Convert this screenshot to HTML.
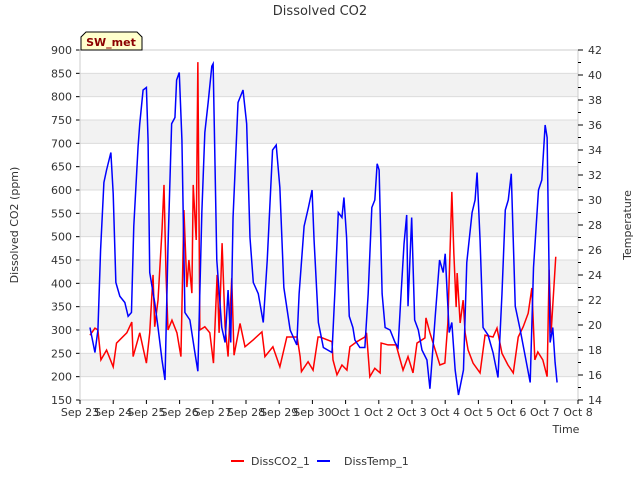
<!DOCTYPE html>
<html><head><meta charset="utf-8"><style>
body{margin:0;background:#fff}
svg{font-family:"DejaVu Sans","Liberation Sans",sans-serif}
</style></head><body>
<svg id="c" width="640" height="480"></svg>
<script>
const xTickLabels=["Sep 23","Sep 24","Sep 25","Sep 26","Sep 27","Sep 28","Sep 29","Sep 30","Oct 1","Oct 2","Oct 3","Oct 4","Oct 5","Oct 6","Oct 7","Oct 8"];
const leftTicks=[150,200,250,300,350,400,450,500,550,600,650,700,750,800,850,900];
const rightTicks=[14,16,18,20,22,24,26,28,30,32,34,36,38,40,42];
const tempDays=[0.3,0.45,0.54,0.62,0.72,0.8,0.93,1.0,1.08,1.2,1.35,1.45,1.55,1.62,1.75,1.8,1.9,2.0,2.05,2.1,2.25,2.35,2.47,2.56,2.65,2.76,2.86,2.91,2.99,3.07,3.16,3.31,3.46,3.55,3.67,3.76,3.86,3.97,4.01,4.12,4.27,4.37,4.46,4.54,4.61,4.76,4.91,5.02,5.12,5.22,5.37,5.52,5.64,5.8,5.91,6.02,6.14,6.33,6.53,6.6,6.75,6.88,6.99,7.05,7.18,7.33,7.59,7.68,7.78,7.89,7.95,8.03,8.11,8.22,8.28,8.43,8.58,8.68,8.79,8.88,8.95,9.01,9.1,9.19,9.34,9.49,9.58,9.66,9.76,9.84,9.88,9.99,10.08,10.19,10.3,10.45,10.54,10.7,10.83,10.94,11.0,11.12,11.2,11.3,11.4,11.55,11.65,11.81,11.9,11.96,12.05,12.14,12.29,12.44,12.59,12.71,12.81,12.9,12.99,13.11,13.26,13.41,13.56,13.66,13.81,13.91,14.01,14.07,14.16,14.24,14.31,14.37];
const tempValues=[19.8,17.8,19.6,26,31.4,32.4,33.8,30.5,23.4,22.3,21.8,20.7,21,27.9,34.3,36.1,38.8,39,34.8,24.2,21.8,19.8,17.2,15.6,26.2,36.1,36.6,39.6,40.2,34.8,21,20.4,17.8,16.3,29,35.4,37.8,40.7,40.9,25.2,19.8,18.6,22.8,18.6,28.6,37.8,38.8,36.1,27,23.4,22.5,20.2,25.2,34,34.4,31,23,19.6,18.4,22.5,27.9,29.4,30.8,26.8,20.2,18.2,17.8,22.8,29,28.6,30.2,27,20.7,19.8,18.8,18.2,18.2,22.5,29.4,30,32.9,32.4,22.5,19.8,19.6,18.6,18.2,22,26.5,28.8,21.5,28.6,20.4,19.6,18,17.2,14.9,20.7,25.2,24.2,25.7,19.4,20.2,16.4,14.4,16.4,25,29,30,32.2,26.8,19.8,19.2,17.8,15.8,22.5,29.2,30,32.1,21.5,19.6,17.5,15.4,24.6,30.8,31.6,36,35,18.6,19.8,17,15.4];
const co2Days=[0.3,0.45,0.54,0.63,0.8,1.0,1.1,1.41,1.56,1.6,1.8,2.0,2.1,2.2,2.25,2.35,2.47,2.53,2.59,2.65,2.77,2.92,3.04,3.13,3.22,3.28,3.37,3.41,3.5,3.55,3.61,3.76,3.91,4.02,4.13,4.19,4.28,4.37,4.46,4.57,4.64,4.82,4.97,5.22,5.48,5.57,5.81,6.02,6.23,6.54,6.63,6.67,6.87,7.02,7.17,7.23,7.59,7.62,7.74,7.89,8.04,8.13,8.34,8.58,8.63,8.73,8.88,9.04,9.07,9.28,9.52,9.73,9.88,10.03,10.15,10.39,10.42,10.54,10.84,10.99,11.08,11.2,11.26,11.33,11.36,11.45,11.54,11.6,11.69,11.84,12.05,12.2,12.44,12.56,12.71,12.89,13.05,13.2,13.35,13.5,13.61,13.7,13.79,13.94,14.07,14.13,14.19,14.33];
const co2Values=[289,304,300,236,257,221,272,294,317,243,294,229,294,418,307,364,514,611,422,300,321,294,243,557,392,450,379,611,493,874,300,307,294,229,418,294,486,307,243,411,246,314,264,279,296,243,264,221,285,285,243,211,232,214,285,285,275,236,204,225,214,264,275,285,294,200,218,208,272,268,268,214,243,208,272,283,326,294,225,229,315,596,465,349,422,315,364,294,257,229,208,289,285,304,250,225,208,285,307,336,390,236,253,236,200,429,294,457];

const svg=document.getElementById('c');const NS='http://www.w3.org/2000/svg';
function mk(t,a,p){const e=document.createElementNS(NS,t);for(const k in a)e.setAttribute(k,a[k]);(p||svg).appendChild(e);return e;}
const X0=80,X1=578,Y0=400,Y1=50;
const xs=d=>X0+(X1-X0)*d/15;
const yl=v=>Y0-(v-150)/750*(Y0-Y1);
const yr=v=>Y0-(v-14)/28*(Y0-Y1);
// bands
for(let v=200;v<900;v+=100){const b=mk('rect',{x:X0,y:yl(v+50),width:X1-X0,height:yl(v)-yl(v+50),fill:'#f2f2f2'});
}
leftTicks.forEach(v=>{const l=mk('line',{x1:X0,x2:X1,y1:yl(v),y2:yl(v),stroke:'#dcdcdc','stroke-width':1});

mk('line',{x1:X0-4,x2:X0,y1:yl(v),y2:yl(v),stroke:'#000'});
const t=mk('text',{x:X0-8,y:yl(v)+4,'text-anchor':'end','font-size':11,fill:'#333'});t.textContent=v;
});
mk('rect',{x:X0,y:Y1,width:X1-X0,height:Y0-Y1,fill:'none',stroke:'#ccc'});
for(let v=14;v<=42;v++){mk('line',{x1:X1,x2:X1+(v%2?3:5),y1:yr(v),y2:yr(v),stroke:'#000'});}
rightTicks.forEach(v=>{const t=mk('text',{x:X1+10,y:yr(v)+4,'font-size':11,fill:'#333'});t.textContent=v;
});
xTickLabels.forEach((s,i)=>{mk('line',{x1:xs(i),x2:xs(i),y1:Y0,y2:Y0+4,stroke:'#000'});
const t=mk('text',{x:xs(i),y:Y0+16,'text-anchor':'middle','font-size':11,fill:'#333'});t.textContent=s;
});
const pr=mk('polyline',{points:co2Days.map((d,i)=>xs(d)+','+yl(co2Values[i])).join(' '),fill:'none',stroke:'#ff0000','stroke-width':1.5});

const pb=mk('polyline',{points:tempDays.map((d,i)=>xs(d)+','+yr(tempValues[i])).join(' '),fill:'none',stroke:'#0000ff','stroke-width':1.5});

</script>
<svg width="640" height="480" style="position:absolute;left:0;top:0">
<text x="320" y="15" text-anchor="middle" font-size="13" fill="#333">Dissolved CO2</text>
<text transform="translate(18,225) rotate(-90)" text-anchor="middle" font-size="11" fill="#333">Dissolved CO2 (ppm)</text>
<text transform="translate(631,225) rotate(-90)" text-anchor="middle" font-size="11" fill="#333">Temperature</text>
<text x="566" y="433" text-anchor="middle" font-size="11" fill="#333">Time</text>
<g><path d="M81,50 L81,37 L86,32 L137,32 L142,37 L142,50 Z" fill="#ffffcc" stroke="#000"/>
<text x="111" y="46" text-anchor="middle" font-size="11" font-weight="bold" fill="#8b0000">SW_met</text></g>
<g>
<line x1="231" x2="244" y1="461" y2="461" stroke="#ff0000" stroke-width="2"/>
<text x="251" y="465" font-size="11" fill="#333">DissCO2_1</text>
<line x1="317" x2="330" y1="461" y2="461" stroke="#0000ff" stroke-width="2"/>
<text x="344" y="465" font-size="11" fill="#333">DissTemp_1</text></g>
</svg>
</body></html>
